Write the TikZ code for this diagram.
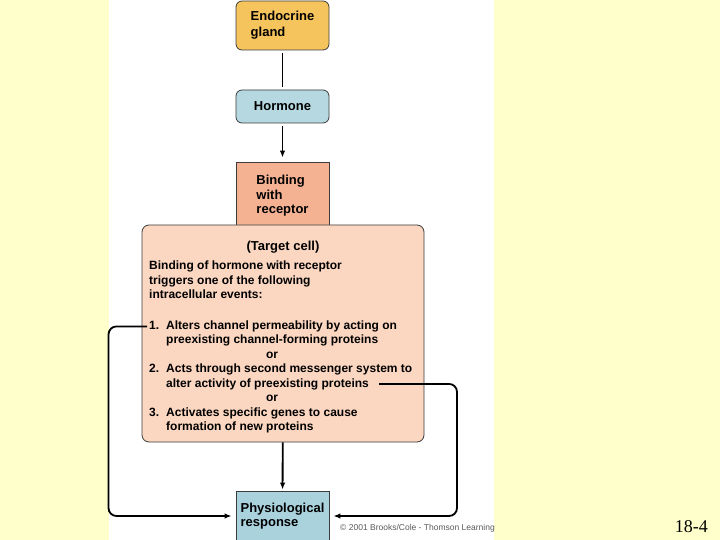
\documentclass[tikz,border=0pt]{standalone}
\usepackage{fontspec}
\setmainfont{Liberation Sans}
\newfontfamily\slidefont{Liberation Serif}
\usepackage{xcolor}
\usetikzlibrary{arrows.meta,positioning}
\definecolor{SlideYellow}{RGB}{255,255,204}
\definecolor{GlandOrange}{RGB}{246,196,92}
\definecolor{HormBlue}{RGB}{182,217,225}
\definecolor{BindSalmon}{RGB}{245,178,147}
\definecolor{CellPeach}{RGB}{251,214,192}
\definecolor{RespBlue}{RGB}{170,210,221}
\definecolor{BoxLine}{RGB}{60,60,60}
\definecolor{CopyGray}{RGB}{90,90,90}

\begin{document}
\begin{tikzpicture}[
    x=1pt, y=-1pt,
    box/.style={draw=BoxLine, line width=0.8pt, minimum width=93pt, align=left, inner sep=0pt, font=\fontsize{13}{16}\selectfont\bfseries},
    glandbox/.style={box, fill=GlandOrange, rounded corners=6pt, minimum height=49pt},
    hormbox/.style={box, fill=HormBlue, rounded corners=6pt, minimum height=33pt},
    bindbox/.style={box, fill=BindSalmon, minimum height=68pt, font=\fontsize{13}{14.5}\selectfont\bfseries},
    respbox/.style={box, fill=RespBlue, minimum height=50pt, font=\fontsize{13}{14.5}\selectfont\bfseries},
    cellbox/.style={draw=BoxLine, line width=0.8pt, fill=CellPeach, rounded corners=7pt, minimum width=282pt, minimum height=217pt, inner sep=0pt},
    cellhead/.style={anchor=base, inner sep=0pt, font=\fontsize{13}{15}\selectfont\bfseries},
    celltext/.style={anchor=base west, inner sep=0pt, font=\fontsize{12}{14.5}\selectfont\bfseries},
    ortext/.style={anchor=base, inner sep=0pt, font=\fontsize{12}{14.5}\selectfont\bfseries},
    conn/.style={line width=1.8pt, rounded corners=8pt},
    arrow/.style={conn, -{Latex[length=7pt,width=5.5pt]}}
  ]
    \clip (0,0) rectangle (720,540);
    \fill[SlideYellow] (0,0) rectangle (720,540);
    \fill[white] (109,0) rectangle (494,540);
    \node[glandbox] (gland) at (282.5,25.5) {Endocrine\\gland};
    \node[hormbox] (hormone) at (282.5,106.5) {Hormone};
    \node[bindbox] (bind) at (282.5,196) {Binding\\with\\receptor};
    \node[cellbox] (cell) at (283,333.5) {};
    \node[respbox] (resp) at (282.5,516) {Physiological\\response};
    \node[cellhead] (head) at (283,251) {(Target cell)};
    \node[celltext] (intro1) at (149,269.5) {Binding of hormone with receptor};
    \node[celltext] (intro2) at (149,284) {triggers one of the following};
    \node[celltext] (intro3) at (149,298.5) {intracellular events:};
    \node[celltext] (s1a) at (149,329.5) {\makebox[17pt][l]{1.}Alters channel permeability by acting on};
    \node[celltext] (s1b) at (166,343) {preexisting channel-forming proteins};
    \node[ortext] (or1) at (272,358) {or};
    \node[celltext] (s2a) at (149,372.5) {\makebox[17pt][l]{2.}Acts through second messenger system to};
    \node[celltext] (s2b) at (166,387) {alter activity of preexisting proteins};
    \node[ortext] (or2) at (272,401.5) {or};
    \node[celltext] (s3a) at (149,416) {\makebox[17pt][l]{3.}Activates specific genes to cause};
    \node[celltext] (s3b) at (166,430.5) {formation of new proteins};
    \coordinate (lbend) at (108.5,516);
    \coordinate (rbend) at (457,516);
    \draw[conn, shorten <=3pt, shorten >=3pt] (gland) -- (hormone);
    \draw[arrow, shorten <=3pt, shorten >=4pt] (hormone) -- (bind);
    \draw[arrow, shorten >=1pt] (cell) -- (resp);
    \draw[arrow, shorten <=2pt, shorten >=4pt] (s1a.west) -| (lbend) -- (resp.west);
    \draw[arrow, shorten <=10pt, shorten >=4pt] (s2b.east) -| (rbend) -- (resp.east);
    \node[anchor=base west, inner sep=0pt, text=CopyGray, font=\fontsize{8.5}{10}\selectfont] (copy) at (340,530) {© 2001 Brooks/Cole - Thomson Learning};
    \node[anchor=base east, inner sep=0pt, font=\slidefont\fontsize{18}{20}\selectfont] (slideno) at (708,532) {18-4};
  \end{tikzpicture}
\end{document}
